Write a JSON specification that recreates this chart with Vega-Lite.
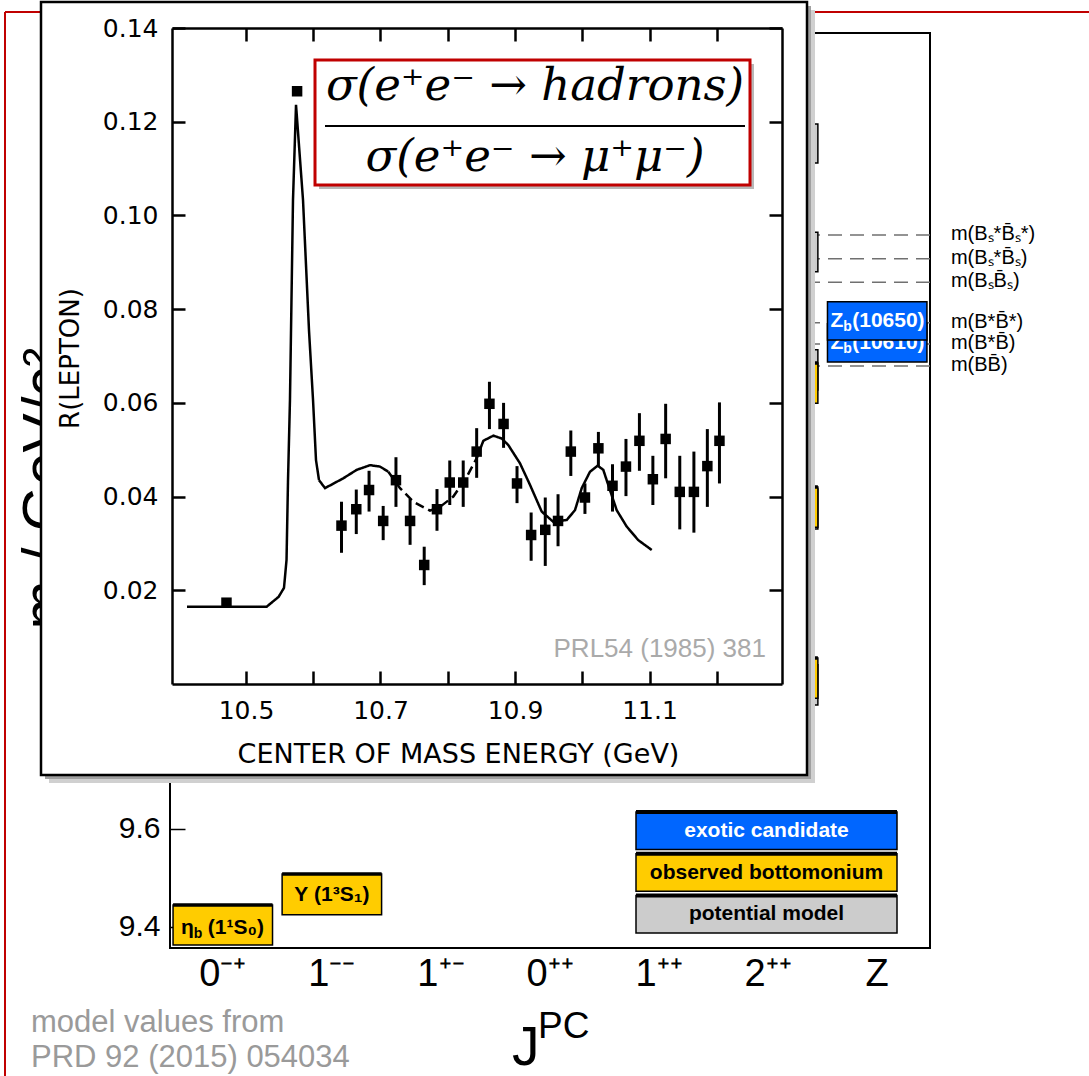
{
  "$schema": "https://vega.github.io/schema/vega-lite/v6.json",
  "width": 760,
  "height": 915,
  "autosize": {"type": "none"},
  "padding": {"left": 170, "top": 33, "right": 159, "bottom": 128},
  "background": "white",
  "config": {
    "view": {"stroke": "black", "strokeWidth": 2},
    "font": "Liberation Sans",
    "axis": {"grid": false, "labelColor": "black", "titleColor": "black", "domainColor": "black", "tickColor": "black"}
  },
  "datasets": {
    "thresholds": [
      {"label": "m(B\u209b*B\u0304\u209b*)", "m": 10.812},
      {"label": "m(B\u209b*B\u0304\u209b)", "m": 10.764},
      {"label": "m(B\u209bB\u0304\u209b)", "m": 10.716},
      {"label": "m(B*B\u0304*)", "m": 10.633},
      {"label": "m(B*B\u0304)", "m": 10.590},
      {"label": "m(BB\u0304)", "m": 10.545}
    ],
    "states": [
      {"name": "2++ model a", "jpc": "2\u207a\u207a", "type": "model", "mass": 10.999, "lo": 10.959, "hi": 11.039},
      {"name": "2++ model b", "jpc": "2\u207a\u207a", "type": "model", "mass": 10.778, "lo": 10.737, "hi": 10.818},
      {"name": "2++ model c", "jpc": "2\u207a\u207a", "type": "model", "mass": 10.537, "lo": 10.496, "hi": 10.578},
      {"name": "2++ model d", "jpc": "2\u207a\u207a", "type": "model", "mass": 10.253, "lo": 10.212, "hi": 10.294},
      {"name": "2++ model e", "jpc": "2\u207a\u207a", "type": "model", "mass": 9.894, "lo": 9.853, "hi": 9.935},
      {"name": "\u03b7b(1S)", "jpc": "0\u207b\u207a", "type": "observed", "mass": 9.404, "lo": 9.363, "hi": 9.445, "head": "\u03b7", "sub": "b", "tail": "(1\u00b9S\u2080)"},
      {"name": "\u03a5(1S)", "jpc": "1\u207b\u207b", "type": "observed", "mass": 9.466, "lo": 9.425, "hi": 9.508, "head": "\u03a5 (1\u00b3S\u2081)"},
      {"name": "\u03c7b2(3P)", "jpc": "2\u207a\u207a", "type": "observed", "mass": 10.510, "lo": 10.469, "hi": 10.551},
      {"name": "\u03c7b2(2P)", "jpc": "2\u207a\u207a", "type": "observed", "mass": 10.257, "lo": 10.216, "hi": 10.298},
      {"name": "\u03c7b2(1P)", "jpc": "2\u207a\u207a", "type": "observed", "mass": 9.908, "lo": 9.867, "hi": 9.949},
      {"name": "Zb(10610)", "jpc": "Z", "type": "exotic", "mass": 10.592, "lo": 10.553, "hi": 10.631, "head": "Z", "sub": "b", "tail": "(10610)"},
      {"name": "Zb(10650)", "jpc": "Z", "type": "exotic", "mass": 10.637, "lo": 10.598, "hi": 10.676, "head": "Z", "sub": "b", "tail": "(10650)"}
    ],
    "legend": [
      {"label": "exotic candidate", "type": "exotic"},
      {"label": "observed bottomonium", "type": "observed"},
      {"label": "potential model", "type": "model"}
    ],
    "curve": [
      {"E": 10.4123, "R": 0.0165, "seg": "solid"},
      {"E": 10.5308, "R": 0.0165, "seg": "solid"},
      {"E": 10.5485, "R": 0.0186, "seg": "solid"},
      {"E": 10.5565, "R": 0.0205, "seg": "solid"},
      {"E": 10.5603, "R": 0.0265, "seg": "solid"},
      {"E": 10.5625, "R": 0.0435, "seg": "solid"},
      {"E": 10.5654, "R": 0.0606, "seg": "solid"},
      {"E": 10.5699, "R": 0.1033, "seg": "solid"},
      {"E": 10.5744, "R": 0.1236, "seg": "solid"},
      {"E": 10.5848, "R": 0.1033, "seg": "solid"},
      {"E": 10.5937, "R": 0.0755, "seg": "solid"},
      {"E": 10.5997, "R": 0.0606, "seg": "solid"},
      {"E": 10.6041, "R": 0.0478, "seg": "solid"},
      {"E": 10.6086, "R": 0.0435, "seg": "solid"},
      {"E": 10.6175, "R": 0.0418, "seg": "solid"},
      {"E": 10.6447, "R": 0.0439, "seg": "solid"},
      {"E": 10.6646, "R": 0.0457, "seg": "solid"},
      {"E": 10.6844, "R": 0.0467, "seg": "solid"},
      {"E": 10.6993, "R": 0.0464, "seg": "solid"},
      {"E": 10.7116, "R": 0.0453, "seg": "solid"},
      {"E": 10.7116, "R": 0.0453, "seg": "dashed"},
      {"E": 10.7290, "R": 0.0418, "seg": "dashed"},
      {"E": 10.7488, "R": 0.0389, "seg": "dashed"},
      {"E": 10.7736, "R": 0.0370, "seg": "dashed"},
      {"E": 10.7885, "R": 0.0378, "seg": "dashed"},
      {"E": 10.8083, "R": 0.0400, "seg": "dashed"},
      {"E": 10.8282, "R": 0.0442, "seg": "dashed"},
      {"E": 10.8431, "R": 0.0482, "seg": "dashed"},
      {"E": 10.8431, "R": 0.0482, "seg": "tail"},
      {"E": 10.8529, "R": 0.0519, "seg": "tail"},
      {"E": 10.8678, "R": 0.0530, "seg": "tail"},
      {"E": 10.8802, "R": 0.0524, "seg": "tail"},
      {"E": 10.8900, "R": 0.0510, "seg": "tail"},
      {"E": 10.9074, "R": 0.0471, "seg": "tail"},
      {"E": 10.9223, "R": 0.0425, "seg": "tail"},
      {"E": 10.9397, "R": 0.0368, "seg": "tail"},
      {"E": 10.9570, "R": 0.0346, "seg": "tail"},
      {"E": 10.9769, "R": 0.0350, "seg": "tail"},
      {"E": 10.9892, "R": 0.0371, "seg": "tail"},
      {"E": 10.9992, "R": 0.0418, "seg": "tail"},
      {"E": 11.0115, "R": 0.0453, "seg": "tail"},
      {"E": 11.0230, "R": 0.0466, "seg": "tail"},
      {"E": 11.0313, "R": 0.0457, "seg": "tail"},
      {"E": 11.0363, "R": 0.0435, "seg": "tail"},
      {"E": 11.0512, "R": 0.0371, "seg": "tail"},
      {"E": 11.0661, "R": 0.0336, "seg": "tail"},
      {"E": 11.0833, "R": 0.0307, "seg": "tail"},
      {"E": 11.1033, "R": 0.0286, "seg": "tail"}
    ],
    "points": [
      {"E": 10.471, "R": 0.01735, "lo": 0.0166, "hi": 0.0181},
      {"E": 10.576, "R": 0.1265, "lo": 0.1255, "hi": 0.1275},
      {"E": 10.642, "R": 0.0338, "lo": 0.0280, "hi": 0.0389},
      {"E": 10.664, "R": 0.0373, "lo": 0.0320, "hi": 0.0415},
      {"E": 10.683, "R": 0.0414, "lo": 0.0368, "hi": 0.0455},
      {"E": 10.704, "R": 0.0348, "lo": 0.0307, "hi": 0.0380},
      {"E": 10.723, "R": 0.0435, "lo": 0.0378, "hi": 0.0484},
      {"E": 10.744, "R": 0.0348, "lo": 0.0297, "hi": 0.0395},
      {"E": 10.765, "R": 0.0254, "lo": 0.0211, "hi": 0.0293},
      {"E": 10.784, "R": 0.0373, "lo": 0.0327, "hi": 0.0416},
      {"E": 10.803, "R": 0.0430, "lo": 0.0382, "hi": 0.0477},
      {"E": 10.823, "R": 0.0430, "lo": 0.0378, "hi": 0.0477},
      {"E": 10.843, "R": 0.0496, "lo": 0.0440, "hi": 0.0546},
      {"E": 10.862, "R": 0.0598, "lo": 0.0544, "hi": 0.0645},
      {"E": 10.883, "R": 0.0555, "lo": 0.0504, "hi": 0.0600},
      {"E": 10.903, "R": 0.0428, "lo": 0.0386, "hi": 0.0465},
      {"E": 10.924, "R": 0.0318, "lo": 0.0263, "hi": 0.0366},
      {"E": 10.945, "R": 0.0329, "lo": 0.0252, "hi": 0.0398},
      {"E": 10.964, "R": 0.0348, "lo": 0.0294, "hi": 0.0405},
      {"E": 10.983, "R": 0.0496, "lo": 0.0444, "hi": 0.0541},
      {"E": 11.004, "R": 0.0398, "lo": 0.0363, "hi": 0.0428},
      {"E": 11.024, "R": 0.0503, "lo": 0.0465, "hi": 0.0538},
      {"E": 11.045, "R": 0.0423, "lo": 0.0368, "hi": 0.0469},
      {"E": 11.065, "R": 0.0464, "lo": 0.0401, "hi": 0.0523},
      {"E": 11.085, "R": 0.0519, "lo": 0.0455, "hi": 0.0578},
      {"E": 11.105, "R": 0.0437, "lo": 0.0382, "hi": 0.0487},
      {"E": 11.124, "R": 0.0523, "lo": 0.0439, "hi": 0.0598},
      {"E": 11.145, "R": 0.0410, "lo": 0.0330, "hi": 0.0487},
      {"E": 11.166, "R": 0.0410, "lo": 0.0323, "hi": 0.0496},
      {"E": 11.186, "R": 0.0465, "lo": 0.0378, "hi": 0.0544},
      {"E": 11.204, "R": 0.0519, "lo": 0.0428, "hi": 0.0601}
    ],
    "frame": [
      {"part": "top", "x": 0.459, "x2": 100, "y": 1.115, "y2": 1.115},
      {"part": "left", "x": 0.459, "x2": 0.459, "y": 1.115, "y2": 100}
    ],
    "panel": [
      {"part": "shadow outer", "x": 4.500, "x2": 74.839, "y": 0.929, "y2": 72.770},
      {"part": "shadow inner", "x": 4.132, "x2": 74.472, "y": 0.558, "y2": 72.398},
      {"part": "inset", "x": 3.765, "x2": 74.105, "y": 0.186, "y2": 72.026}
    ],
    "notes": [
      {"part": "note", "text": "model values from", "x": 2.847, "y": 95.911},
      {"part": "note", "text": "PRD 92 (2015) 054034", "x": 2.847, "y": 99.164},
      {"part": "J", "text": "J", "x": 47.016, "y": 98.978},
      {"part": "PC", "text": "PC", "x": 49.403, "y": 96.468}
    ],
    "formulaBox": [
      {"part": "shadow", "x": 29.293, "x2": 69.238, "y": 5.948, "y2": 17.565},
      {"part": "box", "x": 28.926, "x2": 68.871, "y": 5.576, "y2": 17.193}
    ],
    "fraction": [
      {"x": 29.844, "x2": 68.411, "y": 11.710}
    ],
    "formula": [
      {"text": "\u03c3(e\u207ae\u207b \u2192 hadrons)", "x": 49.128, "y": 9.294},
      {"text": "\u03c3(e\u207ae\u207b \u2192 \u03bc\u207a\u03bc\u207b)", "x": 49.128, "y": 15.892}
    ],
    "credit": [
      {"text": "PRL54 (1985) 381", "x": 70.340, "y": 61.059}
    ]
  },
  "resolve": {"scale": {"x": "independent", "y": "independent", "fill": "independent", "stroke": "independent", "color": "independent", "strokeDash": "independent"}},
  "layer": [
    {
      "resolve": {"axis": {"x": "independent", "y": "independent"}},
      "layer": [
        {
          "data": {"name": "thresholds"},
          "mark": {"type": "rule", "color": "#707070", "strokeWidth": 1.5, "strokeDash": [14, 8]},
          "encoding": {
            "y": {
              "field": "m", "type": "quantitative",
              "scale": {"domain": [9.3571, 11.2245], "nice": false, "zero": false},
              "axis": {
                "orient": "left", "values": [9.4, 9.6],
                "format": ".1f", "domain": false, "tickSize": -15, "tickWidth": 1.5,
                "labelFontSize": 30, "labelFont": "Liberation Sans", "labelPadding": 25,
                "title": "m / GeV/c\u00b2", "titleFont": "Liberation Sans", "titleFontSize": 59,
                "titleFontWeight": "normal", "titleAngle": -90, "titleX": -107, "titleY": 455,
                "titleAlign": "center", "titleBaseline": "alphabetic"
              }
            }
          }
        },
        {
          "data": {"name": "thresholds"},
          "mark": {"type": "text", "align": "left", "baseline": "middle", "dx": 24, "dy": -1, "fontSize": 20, "font": "Liberation Sans", "color": "black"},
          "encoding": {
            "x": {"datum": "Z", "type": "nominal", "bandPosition": 1, "axis": null},
            "y": {"field": "m", "type": "quantitative", "axis": null},
            "text": {"field": "label"}
          }
        },
        {
          "data": {"name": "states"},
          "transform": [{"filter": "datum.name !== 'Zb(10650)'"}],
          "mark": {"type": "bar", "stroke": "black", "strokeWidth": 1.5},
          "encoding": {
            "x": {
              "field": "jpc", "type": "nominal",
              "scale": {"domain": ["0\u207b\u207a", "1\u207b\u207b", "1\u207a\u207b", "0\u207a\u207a", "1\u207a\u207a", "2\u207a\u207a", "Z"], "paddingInner": 0.088, "paddingOuter": 0.028},
              "sort": null,
              "axis": {"orient": "bottom", "ticks": false, "domain": false, "labelAngle": 0, "labelFontSize": 38, "labelFont": "Liberation Sans", "labelPadding": 7, "title": null}
            },
            "y": {"field": "lo", "type": "quantitative", "axis": null},
            "y2": {"field": "hi"},
            "fill": {"field": "type", "type": "nominal", "scale": {"domain": ["observed", "model", "exotic"], "range": ["#ffcc00", "#cccccc", "#0066ff"]}, "legend": null}
          }
        },
        {
          "data": {"name": "states"},
          "transform": [{"filter": "datum.type === 'observed'"}],
          "mark": {"type": "bar", "fill": "transparent", "stroke": "black", "strokeWidth": 3.5},
          "encoding": {
            "x": {"field": "jpc", "type": "nominal", "axis": null},
            "y": {"field": "hi", "type": "quantitative", "axis": null},
            "y2": {"field": "hi"}
          }
        },
        {
          "data": {"name": "states"},
          "transform": [{"filter": "datum.name === '\u03b7b(1S)'"}],
          "mark": {"type": "text", "align": "right", "baseline": "middle", "dx": -29, "dy": 3, "fontSize": 21, "fontWeight": "bold", "color": "black"},
          "encoding": {"x": {"field": "jpc", "type": "nominal", "axis": null}, "y": {"field": "mass", "type": "quantitative", "axis": null}, "text": {"field": "head"}}
        },
        {
          "data": {"name": "states"},
          "transform": [{"filter": "datum.name === '\u03b7b(1S)'"}],
          "mark": {"type": "text", "align": "left", "baseline": "middle", "dx": -29, "dy": 9, "fontSize": 14, "fontWeight": "bold", "color": "black"},
          "encoding": {"x": {"field": "jpc", "type": "nominal", "axis": null}, "y": {"field": "mass", "type": "quantitative", "axis": null}, "text": {"field": "sub"}}
        },
        {
          "data": {"name": "states"},
          "transform": [{"filter": "datum.name === '\u03b7b(1S)'"}],
          "mark": {"type": "text", "align": "left", "baseline": "middle", "dx": -15, "dy": 3, "fontSize": 21, "fontWeight": "bold", "color": "black"},
          "encoding": {"x": {"field": "jpc", "type": "nominal", "axis": null}, "y": {"field": "mass", "type": "quantitative", "axis": null}, "text": {"field": "tail"}}
        },
        {
          "data": {"name": "states"},
          "transform": [{"filter": "datum.name === '\u03a5(1S)'"}],
          "mark": {"type": "text", "align": "center", "baseline": "middle", "fontSize": 21, "fontWeight": "bold", "color": "black"},
          "encoding": {"x": {"field": "jpc", "type": "nominal", "axis": null}, "y": {"field": "mass", "type": "quantitative", "axis": null}, "text": {"field": "head"}}
        },
        {
          "data": {"name": "states"},
          "transform": [{"filter": "datum.name === 'Zb(10610)'"}],
          "mark": {"type": "text", "align": "right", "baseline": "middle", "dx": -34, "fontSize": 21, "fontWeight": "bold", "color": "white"},
          "encoding": {"x": {"field": "jpc", "type": "nominal", "axis": null}, "y": {"field": "mass", "type": "quantitative", "axis": null}, "text": {"field": "head"}}
        },
        {
          "data": {"name": "states"},
          "transform": [{"filter": "datum.name === 'Zb(10610)'"}],
          "mark": {"type": "text", "align": "left", "baseline": "middle", "dx": -34, "dy": 6, "fontSize": 14, "fontWeight": "bold", "color": "white"},
          "encoding": {"x": {"field": "jpc", "type": "nominal", "axis": null}, "y": {"field": "mass", "type": "quantitative", "axis": null}, "text": {"field": "sub"}}
        },
        {
          "data": {"name": "states"},
          "transform": [{"filter": "datum.name === 'Zb(10610)'"}],
          "mark": {"type": "text", "align": "left", "baseline": "middle", "dx": -25, "fontSize": 21, "fontWeight": "bold", "color": "white"},
          "encoding": {"x": {"field": "jpc", "type": "nominal", "axis": null}, "y": {"field": "mass", "type": "quantitative", "axis": null}, "text": {"field": "tail"}}
        },
        {
          "data": {"name": "states"},
          "transform": [{"filter": "datum.name === 'Zb(10650)'"}],
          "mark": {"type": "bar", "stroke": "black", "strokeWidth": 1.5, "fill": "#0066ff"},
          "encoding": {
            "x": {"field": "jpc", "type": "nominal", "axis": null},
            "y": {"field": "lo", "type": "quantitative", "axis": null},
            "y2": {"field": "hi"}
          }
        },
        {
          "data": {"name": "states"},
          "transform": [{"filter": "datum.name === 'Zb(10650)'"}],
          "mark": {"type": "text", "align": "right", "baseline": "middle", "dx": -34, "fontSize": 21, "fontWeight": "bold", "color": "white"},
          "encoding": {"x": {"field": "jpc", "type": "nominal", "axis": null}, "y": {"field": "mass", "type": "quantitative", "axis": null}, "text": {"field": "head"}}
        },
        {
          "data": {"name": "states"},
          "transform": [{"filter": "datum.name === 'Zb(10650)'"}],
          "mark": {"type": "text", "align": "left", "baseline": "middle", "dx": -34, "dy": 6, "fontSize": 14, "fontWeight": "bold", "color": "white"},
          "encoding": {"x": {"field": "jpc", "type": "nominal", "axis": null}, "y": {"field": "mass", "type": "quantitative", "axis": null}, "text": {"field": "sub"}}
        },
        {
          "data": {"name": "states"},
          "transform": [{"filter": "datum.name === 'Zb(10650)'"}],
          "mark": {"type": "text", "align": "left", "baseline": "middle", "dx": -25, "fontSize": 21, "fontWeight": "bold", "color": "white"},
          "encoding": {"x": {"field": "jpc", "type": "nominal", "axis": null}, "y": {"field": "mass", "type": "quantitative", "axis": null}, "text": {"field": "tail"}}
        }
      ]
    },
    {
      "data": {"name": "legend"},
      "layer": [
        {
          "mark": {"type": "rect", "stroke": "black", "strokeWidth": 1.5},
          "encoding": {
            "y": {"field": "label", "type": "nominal", "sort": null, "scale": {"domain": ["exotic candidate", "observed bottomonium", "potential model"], "range": [779, 900], "paddingInner": 0.1, "paddingOuter": 0}, "axis": null},
            "x": {"datum": 0, "type": "quantitative", "scale": {"domain": [0, 1], "range": [466, 727]}, "axis": null},
            "x2": {"datum": 1},
            "fill": {"field": "type", "type": "nominal", "scale": {"domain": ["observed", "model", "exotic"], "range": ["#ffcc00", "#cccccc", "#0066ff"]}, "legend": null}
          }
        },
        {
          "mark": {"type": "rule", "color": "black", "strokeWidth": 4},
          "encoding": {
            "y": {"field": "label", "type": "nominal", "bandPosition": 0, "axis": null},
            "x": {"datum": 0, "type": "quantitative", "axis": null},
            "x2": {"datum": 1}
          }
        },
        {
          "mark": {"type": "text", "fontSize": 21, "fontWeight": "bold", "font": "Liberation Sans", "baseline": "middle"},
          "encoding": {
            "y": {"field": "label", "type": "nominal", "axis": null},
            "x": {"datum": 0.5, "type": "quantitative", "axis": null},
            "text": {"field": "label"},
            "color": {"field": "type", "type": "nominal", "scale": {"domain": ["exotic", "observed", "model"], "range": ["white", "black", "black"]}, "legend": null}
          }
        }
      ]
    },
    {
      "layer": [
        {
          "data": {"name": "frame"},
          "mark": {"type": "rule", "color": "#c00000", "strokeWidth": 2},
          "encoding": {
            "x": {"field": "x", "type": "quantitative", "scale": {"domain": [0, 100], "range": [-170, 919]}, "axis": null},
            "x2": {"field": "x2"},
            "y": {"field": "y", "type": "quantitative", "scale": {"domain": [0, 100], "range": [-33, 1043]}, "axis": null},
            "y2": {"field": "y2"}
          }
        },
        {
          "data": {"name": "panel"},
          "mark": {"type": "rect", "strokeWidth": 2.5},
          "encoding": {
            "x": {"field": "x", "type": "quantitative", "axis": null},
            "x2": {"field": "x2"},
            "y": {"field": "y", "type": "quantitative", "axis": null},
            "y2": {"field": "y2"},
            "fill": {"field": "part", "type": "nominal", "scale": {"domain": ["shadow outer", "shadow inner", "inset"], "range": ["#d0d0d0", "#a0a0a0", "white"]}, "legend": null},
            "stroke": {"field": "part", "type": "nominal", "scale": {"domain": ["shadow outer", "shadow inner", "inset"], "range": ["transparent", "transparent", "black"]}, "legend": null}
          }
        },
        {
          "data": {"name": "notes"},
          "transform": [{"filter": "datum.part === 'note'"}],
          "mark": {"type": "text", "align": "left", "baseline": "alphabetic", "fontSize": 31, "font": "Liberation Sans", "color": "#9a9a9a"},
          "encoding": {
            "x": {"field": "x", "type": "quantitative", "axis": null},
            "y": {"field": "y", "type": "quantitative", "axis": null},
            "text": {"field": "text"}
          }
        },
        {
          "data": {"name": "notes"},
          "transform": [{"filter": "datum.part === 'J'"}],
          "mark": {"type": "text", "align": "left", "baseline": "alphabetic", "fontSize": 55, "font": "Liberation Sans", "color": "black"},
          "encoding": {
            "x": {"field": "x", "type": "quantitative", "axis": null},
            "y": {"field": "y", "type": "quantitative", "axis": null},
            "text": {"field": "text"}
          }
        },
        {
          "data": {"name": "notes"},
          "transform": [{"filter": "datum.part === 'PC'"}],
          "mark": {"type": "text", "align": "left", "baseline": "alphabetic", "fontSize": 37, "font": "Liberation Sans", "color": "black"},
          "encoding": {
            "x": {"field": "x", "type": "quantitative", "axis": null},
            "y": {"field": "y", "type": "quantitative", "axis": null},
            "text": {"field": "text"}
          }
        }
      ]
    },
    {
      "resolve": {"axis": {"x": "independent", "y": "independent"}},
      "layer": [
        {
          "data": {"name": "curve"},
          "mark": {"type": "line", "color": "black", "strokeWidth": 2.5},
          "encoding": {
            "x": {
              "field": "E", "type": "quantitative",
              "scale": {"domain": [10.39, 11.297], "range": [2, 612], "nice": false, "zero": false},
              "axis": {
                "orient": "bottom", "offset": -264, "values": [10.5, 10.6, 10.7, 10.8, 10.9, 11.0, 11.1, 11.2],
                "labelExpr": "round(datum.value*10) % 2 == 1 ? format(datum.value, '.1f') : ''",
                "labelFontSize": 25, "labelFont": "DejaVu Sans", "labelPadding": 27, "labelOverlap": false, "labelFlush": false,
                "tickSize": -13, "tickWidth": 2.5, "domainWidth": 2.5,
                "title": "CENTER OF MASS ENERGY (GeV)", "titleFont": "DejaVu Sans", "titleFontSize": 27, "titleFontWeight": "normal",
                "titleX": 288, "titleY": 78, "titleAlign": "center", "titleBaseline": "alphabetic", "zindex": 1
              }
            },
            "y": {
              "field": "R", "type": "quantitative",
              "scale": {"domain": [0, 0.14], "range": [651, -5], "nice": false, "zero": false},
              "axis": {
                "orient": "left", "offset": -2, "values": [0.02, 0.04, 0.06, 0.08, 0.1, 0.12, 0.14], "format": ".2f",
                "labelFontSize": 25, "labelFont": "DejaVu Sans", "labelPadding": 27, "labelOverlap": false, "labelFlush": false,
                "tickSize": -13, "tickWidth": 2.5, "domainWidth": 2.5,
                "title": "R(LEPTON)", "titleFont": "DejaVu Sans", "titleFontSize": 26, "titleFontWeight": "normal",
                "titleAngle": -90, "titleX": -94, "titleY": 325, "titleAlign": "center", "titleBaseline": "alphabetic", "zindex": 1
              }
            },
            "strokeDash": {"field": "seg", "type": "nominal", "scale": {"domain": ["solid", "dashed", "tail"], "range": [[1, 0], [9, 5], [1, 0]]}, "legend": null}
          }
        },
        {
          "data": {"name": "points"},
          "mark": {"type": "rule", "color": "black", "strokeWidth": 3},
          "encoding": {
            "x": {
              "field": "E", "type": "quantitative",
              "axis": {"orient": "top", "offset": 5, "values": [10.5, 10.6, 10.7, 10.8, 10.9, 11.0, 11.1, 11.2], "labels": false, "tickSize": -13, "tickWidth": 2.5, "domainWidth": 2.5, "title": null, "zindex": 1}
            },
            "y": {
              "field": "lo", "type": "quantitative",
              "axis": {"orient": "right", "offset": -148, "values": [0.02, 0.04, 0.06, 0.08, 0.1, 0.12, 0.14], "labels": false, "tickSize": -13, "tickWidth": 2.5, "domainWidth": 2.5, "title": null, "zindex": 1}
            },
            "y2": {"field": "hi"}
          }
        },
        {
          "data": {"name": "points"},
          "mark": {"type": "square", "filled": true, "color": "black", "size": 110, "opacity": 1},
          "encoding": {
            "x": {"field": "E", "type": "quantitative", "axis": null},
            "y": {"field": "R", "type": "quantitative", "axis": null}
          }
        }
      ]
    },
    {
      "layer": [
        {
          "data": {"name": "formulaBox"},
          "mark": {"type": "rect", "strokeWidth": 3},
          "encoding": {
            "x": {"field": "x", "type": "quantitative", "scale": {"domain": [0, 100], "range": [-170, 919]}, "axis": null},
            "x2": {"field": "x2"},
            "y": {"field": "y", "type": "quantitative", "scale": {"domain": [0, 100], "range": [-33, 1043]}, "axis": null},
            "y2": {"field": "y2"},
            "fill": {"field": "part", "type": "nominal", "scale": {"domain": ["shadow", "box"], "range": ["#b8b8b8", "white"]}, "legend": null},
            "stroke": {"field": "part", "type": "nominal", "scale": {"domain": ["shadow", "box"], "range": ["transparent", "#c00000"]}, "legend": null}
          }
        },
        {
          "data": {"name": "fraction"},
          "mark": {"type": "rule", "color": "black", "strokeWidth": 2},
          "encoding": {
            "x": {"field": "x", "type": "quantitative", "axis": null},
            "x2": {"field": "x2"},
            "y": {"field": "y", "type": "quantitative", "axis": null}
          }
        },
        {
          "data": {"name": "formula"},
          "mark": {"type": "text", "align": "center", "baseline": "alphabetic", "font": "DejaVu Serif", "fontStyle": "italic", "fontSize": 45, "color": "black"},
          "encoding": {
            "x": {"field": "x", "type": "quantitative", "axis": null},
            "y": {"field": "y", "type": "quantitative", "axis": null},
            "text": {"field": "text"}
          }
        },
        {
          "data": {"name": "credit"},
          "mark": {"type": "text", "align": "right", "baseline": "alphabetic", "font": "Liberation Sans", "fontSize": 26, "color": "#aaaaaa"},
          "encoding": {
            "x": {"field": "x", "type": "quantitative", "axis": null},
            "y": {"field": "y", "type": "quantitative", "axis": null},
            "text": {"field": "text"}
          }
        }
      ]
    }
  ]
}
